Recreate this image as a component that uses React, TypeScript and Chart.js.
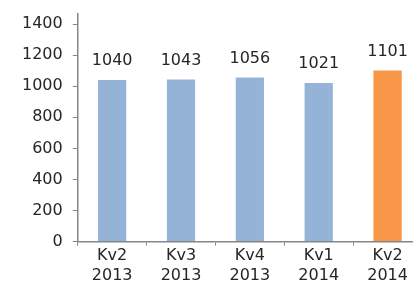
import React, { useEffect, useRef } from "react";
import { Chart, registerables } from "chart.js";

Chart.register(...registerables);

const categories: string[][] = [
  ["Kv2", "2013"],
  ["Kv3", "2013"],
  ["Kv4", "2013"],
  ["Kv1", "2014"],
  ["Kv2", "2014"],
];
const values: number[] = [1040, 1043, 1056, 1021, 1101];
const barColors: string[] = ["#95B3D7", "#95B3D7", "#95B3D7", "#95B3D7", "#F79646"];

const FONT = "'DejaVu Sans'";
const TEXT = "#262626";
const AXIS = "#868686";

const valueLabels = {
  id: "valueLabels",
  afterDatasetsDraw(chart: any) {
    const ctx = chart.ctx;
    const meta = chart.getDatasetMeta(0);
    ctx.save();
    ctx.font = `16px ${FONT}`;
    ctx.fillStyle = TEXT;
    ctx.textAlign = "center";
    ctx.textBaseline = "alphabetic";
    meta.data.forEach((bar: any, i: number) => {
      ctx.fillText(String(values[i]), bar.x, bar.y - 15);
    });
    ctx.restore();
  },
};

export default function App() {
  const ref = useRef<HTMLCanvasElement>(null);
  useEffect(() => {
    const chart = new Chart(ref.current!, {
      type: "bar",
      data: {
        labels: categories,
        datasets: [
          {
            data: values,
            backgroundColor: barColors,
            categoryPercentage: 1,
            barPercentage: 0.41,
          },
        ],
      },
      options: {
        responsive: false,
        animation: false,
        layout: { padding: { top: 2, right: 4, left: 12, bottom: 2 } },
        plugins: { legend: { display: false }, tooltip: { enabled: false } },
        scales: {
          x: {
            grid: {
              offset: true,
              drawOnChartArea: false,
              drawTicks: true,
              tickLength: 4,
              color: AXIS,
            },
            border: { display: true, color: AXIS, width: 1.5 },
            ticks: {
              color: TEXT,
              font: { family: FONT, size: 16, lineHeight: 1.2 },
              padding: 1,
              maxRotation: 0,
            },
          },
          y: {
            min: 0,
            max: 1465,
            grid: {
              drawOnChartArea: false,
              drawTicks: true,
              tickLength: 5,
              color: AXIS,
            },
            border: { display: true, color: AXIS, width: 1.5 },
            ticks: {
              stepSize: 200,
              includeBounds: false,
              color: TEXT,
              font: { family: FONT, size: 16, lineHeight: 0.5 },
              padding: 10,
              callback: (v: any) => String(v),
            },
          },
        },
      },
      plugins: [valueLabels],
    });
    return () => chart.destroy();
  }, []);
  return (
    <div style={{ position: "fixed", left: 0, top: 0, width: 413, height: 288, overflow: "hidden", background: "#fff" }}>
      <canvas ref={ref} width={426} height={288} style={{ display: "block" }} />
    </div>
  );
}
